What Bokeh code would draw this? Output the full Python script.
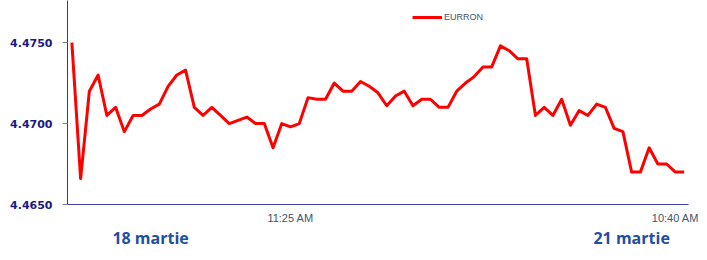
from bokeh.plotting import figure
from bokeh.models import FixedTicker, Legend, LegendItem, NumeralTickFormatter, Range1d, LinearAxis
from bokeh.embed import file_html
from bokeh.resources import INLINE

# ---- data ----
eurron = [
    4.4750, 4.4666, 4.4720, 4.4730, 4.4705, 4.4710, 4.4695, 4.4705, 4.4705, 4.4709,
    4.4712, 4.4723, 4.4730, 4.4733, 4.4710, 4.4705, 4.4710, 4.4705, 4.4700, 4.4702,
    4.4704, 4.4700, 4.4700, 4.4685, 4.4700, 4.4698, 4.4700, 4.4716, 4.4715, 4.4715,
    4.4725, 4.4720, 4.4720, 4.4726, 4.4723, 4.4719, 4.4711, 4.4717, 4.4720, 4.4711,
    4.4715, 4.4715, 4.4710, 4.4710, 4.4720, 4.4725, 4.4729, 4.4735, 4.4735, 4.4748,
    4.4745, 4.4740, 4.4740, 4.4705, 4.4710, 4.4705, 4.4715, 4.4699, 4.4708, 4.4705,
    4.4712, 4.4710, 4.4697, 4.4695, 4.4670, 4.4670, 4.4685, 4.4675, 4.4675, 4.4670,
    4.4670,
]
idx = list(range(len(eurron)))
series_name = "EURRON"
time_ticks = [25, 69]
time_labels = ["11:25 AM", "10:40 AM"]
y_ticks = [4.4650, 4.4700, 4.4750]
date_ticks = [9, 64]
date_labels = ["18 martie", "21 martie"]

p = figure(width=699, height=252, output_backend="svg", toolbar_location=None,
           x_range=Range1d(-0.5, len(eurron) - 0.5), y_range=Range1d(4.4650, 4.4776),
           min_border_left=67, min_border_right=11, min_border_top=0, min_border_bottom=48)
p.outline_line_color = None
p.xgrid.grid_line_color = None
p.ygrid.grid_line_color = None
p.background_fill_color = "white"

r = p.line(idx, eurron, line_color="#FF0000", line_width=3, line_join="round")

# y axis
ya = p.yaxis[0]
ya.ticker = FixedTicker(ticks=y_ticks)
ya.formatter = NumeralTickFormatter(format="0.0000")
ya.major_label_text_font = "DejaVu Sans"
ya.major_label_text_font_style = "bold"
ya.major_label_text_font_size = "11px"
ya.major_label_text_color = "#1a1a80"
ya.major_tick_out = 5
ya.major_tick_in = 0
ya.major_tick_line_color = "#808080"
ya.minor_tick_line_color = None
ya.axis_line_color = "#404040"
ya.major_label_standoff = 10

# x axis (times)
xa = p.xaxis[0]
xa.ticker = FixedTicker(ticks=time_ticks)
xa.major_label_overrides = {t: l for t, l in zip(time_ticks, time_labels)}
xa.major_label_text_font = "Liberation Sans"
xa.major_label_text_font_size = "11px"
xa.major_label_text_color = "#44546A"
xa.major_tick_line_color = None
xa.major_tick_out = 0
xa.major_tick_in = 0
xa.minor_tick_line_color = None
xa.minor_tick_out = 0
xa.axis_line_color = "#4040A0"
xa.major_label_standoff = 7

# second axis below (dates)
da = LinearAxis(ticker=FixedTicker(ticks=date_ticks),
                major_label_overrides={t: l for t, l in zip(date_ticks, date_labels)},
                axis_line_color=None, major_tick_line_color=None, minor_tick_line_color=None,
                major_tick_out=0, major_tick_in=0, minor_tick_out=0, minor_tick_in=0,
                major_label_standoff=0,
                major_label_text_font="Open Sans", major_label_text_font_style="bold",
                major_label_text_font_size="16px", major_label_text_color="#1E4FA0")
p.add_layout(da, "below")

legend = Legend(items=[LegendItem(label=series_name, renderers=[r])], location=(345, 182),
                glyph_width=30, glyph_height=10, label_height=10, label_standoff=2,
                padding=0, margin=0, spacing=0, border_line_color=None,
                background_fill_alpha=0, label_text_font="Liberation Sans",
                label_text_font_size="9px", label_text_color="#44546A")
p.add_layout(legend)

open("out.html", "w").write(file_html(p, INLINE))
